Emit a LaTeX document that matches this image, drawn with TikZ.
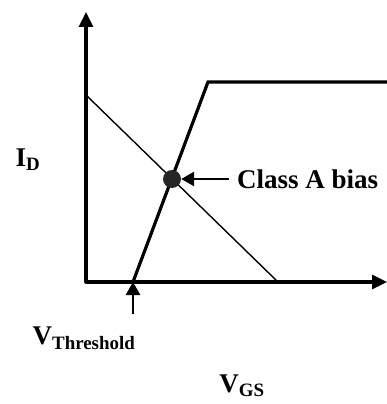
\documentclass[tikz,border=0pt]{standalone}
\usepackage{fontspec}
\setmainfont{Liberation Serif}
\usetikzlibrary{arrows.meta}

\begin{document}
\begin{tikzpicture}[x=1pt,y=-1pt,axis/.style={line width=3.2pt,line join=round,{Triangle[length=15pt,width=14pt]}-{Triangle[length=15pt,width=14pt]}},curve/.style={line width=3.2pt,line join=miter},load/.style={line width=1.4pt},dot/.style={circle,fill=black!85,inner sep=0pt,minimum size=18pt},lbl/.style={font=\fontsize{27}{30}\selectfont\bfseries,inner sep=0pt},pointer/.style={line width=2.6pt,-{Triangle[length=13pt,width=14pt]}}]
\useasboundingbox (0,0) rectangle (387,404);
\coordinate (O) at (86,282);
\coordinate (ytip) at (86,12);
\coordinate (xtip) at (387,282);
\coordinate (load0) at (86,95);
\coordinate (load1) at (278,282);
\coordinate (vth) at (133,282);
\coordinate (knee) at (208,82);
\coordinate (sat) at (390,82);
\coordinate (vthtail) at (133,314);
\draw[axis] (ytip) -- (O) -- (xtip);
\draw[load] (load0) -- (load1);
\draw[curve] (vth) -- (knee) -- (sat);
\node[dot] (q) at (172,179) {};
\node[lbl,anchor=west] (bias) at (237,179) {Class A bias};
\draw[pointer] (bias.west) ++(-8,0) -- (q.east);
\draw[pointer] (vthtail) -- (vth);
\node[lbl] (id) at (28,160) {I\textsubscript{D}};
\node[lbl] (vthr) at (84,338) {V\textsubscript{Threshold}};
\node[lbl] (vgs) at (242,386) {V\textsubscript{GS}};
\end{tikzpicture}
\end{document}
